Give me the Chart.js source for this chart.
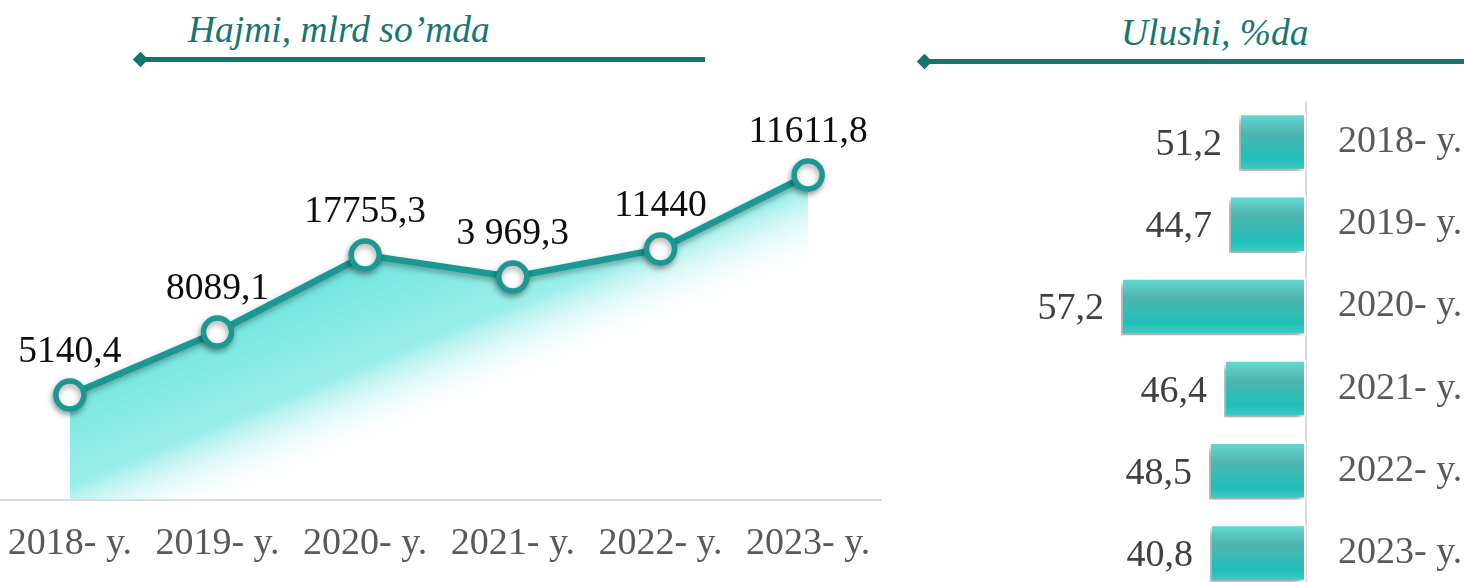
<!DOCTYPE html>
<html lang="uz">
<head>
<meta charset="UTF-8">
<title>Hajmi va ulushi</title>
<script src="https://cdn.jsdelivr.net/npm/chart.js@4.4.1/dist/chart.umd.min.js"></script>
<style>
  html, body {
    margin: 0;
    padding: 0;
    background: #fff;
  }
  body {
    position: relative;
    width: 1464px;
    height: 582px;
    overflow: hidden;
  }
  .title {
    position: absolute;
    font-family: 'Liberation Serif', 'Times New Roman', serif;
    font-style: italic;
    font-size: 37.5px;
    line-height: 36px;
    color: #167670;
    white-space: nowrap;
  }
  .rule {
    position: absolute;
    height: 5px;
    background: #137470;
  }
  .diamond {
    position: absolute;
    width: 11px;
    height: 11px;
    background: #137470;
    transform: rotate(45deg);
  }
  #lineBox { position: absolute; left: -4px; top: 0; width: 886px; height: 582px; }
  #barBox { position: absolute; left: 1000px; top: 101px; width: 464px; height: 493px; }
</style>
</head>
<body>
  <div class="title" style="left:188px; top:12px;">Hajmi, mlrd so’mda</div>
  <div class="rule" style="left:142px; top:57px; width:563px;"></div>
  <div class="diamond" style="left:135px; top:54px;"></div>

  <div class="title" style="left:1121px; top:15px;">Ulushi, %da</div>
  <div class="rule" style="left:926px; top:59px; width:538px;"></div>
  <div class="diamond" style="left:919px; top:56px;"></div>

  <div id="lineBox"><canvas id="lineChart"></canvas></div>
  <div id="barBox"><canvas id="barChart"></canvas></div>

<script>
const years = ['2018- y.', '2019- y.', '2020- y.', '2021- y.', '2022- y.', '2023- y.'];

// labels as printed in the picture
const volumeLabels = ['5140,4', '8089,1', '17755,3', '3 969,3', '11440', '11611,8'];
// the line is not drawn to the scale of those numbers, so its heights are read off the picture
const volumeLevel = [105, 168, 245, 223, 251, 325];

const shareLabels = ['51,2', '44,7', '57,2', '46,4', '48,5', '40,8'];
// bar lengths (not proportional to the printed shares either)
const shareLength = [67, 77, 185, 82, 97, 96];

const serif = "'Liberation Serif', 'Times New Roman', serif";
const teal = '#1b9893';

Chart.defaults.font.family = serif;

// shadow under the marks
const shadowPlugin = {
  id: 'shadow',
  beforeDatasetDraw(chart) {
    const c = chart.ctx;
    c.save();
    c.shadowColor = 'rgba(0,0,0,0.35)';
    c.shadowBlur = 6;
    c.shadowOffsetX = chart.config.type === 'bar' ? -4 : -1;
    c.shadowOffsetY = chart.config.type === 'bar' ? 5 : 3;
  },
  afterDatasetDraw(chart) {
    chart.ctx.restore();
  }
};

const lineLabels = {
  id: 'lineLabels',
  afterDatasetsDraw(chart) {
    const c = chart.ctx;
    const meta = chart.getDatasetMeta(0);
    c.save();
    c.font = '37.5px ' + serif;
    c.fillStyle = '#0d0d0d';
    c.textAlign = 'center';
    c.textBaseline = 'alphabetic';
    meta.data.forEach((pt, i) => {
      c.fillText(volumeLabels[i], pt.x, pt.y - 33);
    });
    c.restore();
  }
};

const barLabels = {
  id: 'barLabels',
  afterDatasetsDraw(chart) {
    const c = chart.ctx;
    const meta = chart.getDatasetMeta(0);
    c.save();
    c.font = '38px ' + serif;
    c.fillStyle = '#404040';
    c.textAlign = 'right';
    c.textBaseline = 'alphabetic';
    meta.data.forEach((bar, i) => {
      c.fillText(shareLabels[i], bar.x - 17, bar.y + 13);
    });
    c.restore();
  }
};

new Chart(document.getElementById('lineChart'), {
  type: 'line',
  data: {
    labels: years,
    datasets: [{
      data: volumeLevel,
      borderColor: teal,
      borderWidth: 6.5,
      pointRadius: 14,
      pointHoverRadius: 14,
      pointBorderWidth: 5.5,
      pointBackgroundColor: '#fff',
      pointBorderColor: teal,
      tension: 0,
      fill: 'origin',
      backgroundColor: (ctx) => {
        const g = ctx.chart.ctx.createLinearGradient(384, 240, 454, 412);
        g.addColorStop(0, 'rgba(108,228,224,1)');
        g.addColorStop(0.6, 'rgba(150,237,233,0.95)');
        g.addColorStop(1, 'rgba(255,255,255,0)');
        return g;
      }
    }]
  },
  options: {
    responsive: true,
    maintainAspectRatio: false,
    animation: false,
    layout: { autoPadding: false, padding: { top: 100, left: 0, right: 0, bottom: 0 } },
    plugins: { legend: { display: false }, tooltip: { enabled: false } },
    scales: {
      x: {
        offset: true,
        grid: { display: false, drawTicks: false },
        border: { display: true, color: '#d9d9d9', width: 2 },
        ticks: { color: '#595959', font: { size: 38, family: serif }, padding: 21, maxRotation: 0, autoSkip: false },
        afterFit(s) { s.height = 82; s.paddingLeft = 0; s.paddingRight = 0; }
      },
      y: {
        display: false,
        min: 0,
        max: 400
      }
    }
  },
  plugins: [shadowPlugin, lineLabels]
});

new Chart(document.getElementById('barChart'), {
  type: 'bar',
  data: {
    labels: years,
    datasets: [{
      data: shareLength,
      borderColor: '#fff',
      borderWidth: 2,
      borderSkipped: false,
      barPercentage: 0.7,
      categoryPercentage: 1,
      backgroundColor: (ctx) => {
        const ys = ctx.chart.scales.y;
        if (!ys || ys.top === undefined || ys.bottom === undefined || ctx.dataIndex === undefined) return '#2fbdb7';
        const cy = ys.getPixelForValue(ctx.dataIndex);
        const half = 0.35 * (ys.bottom - ys.top) / years.length;
        const g = ctx.chart.ctx.createLinearGradient(0, cy - half, 0, cy + half);
        g.addColorStop(0, '#66dbd5');
        g.addColorStop(0.35, '#4fb5b0');
        g.addColorStop(0.8, '#1fbfb8');
        g.addColorStop(1, '#45ccc6');
        return g;
      }
    }]
  },
  options: {
    indexAxis: 'y',
    responsive: true,
    maintainAspectRatio: false,
    animation: false,
    layout: { padding: 0 },
    plugins: { legend: { display: false }, tooltip: { enabled: false } },
    scales: {
      x: {
        display: false,
        reverse: true,
        min: 0,
        max: 306
      },
      y: {
        position: 'right',
        grid: { display: false, drawTicks: false },
        border: { display: true, color: '#d9d9d9', width: 2 },
        ticks: { color: '#595959', font: { size: 38, family: serif }, padding: 32 },
        afterFit(s) { s.width = 158; s.paddingTop = 0; s.paddingBottom = 0; }
      }
    }
  },
  plugins: [shadowPlugin, barLabels]
});
</script>
</body>
</html>
